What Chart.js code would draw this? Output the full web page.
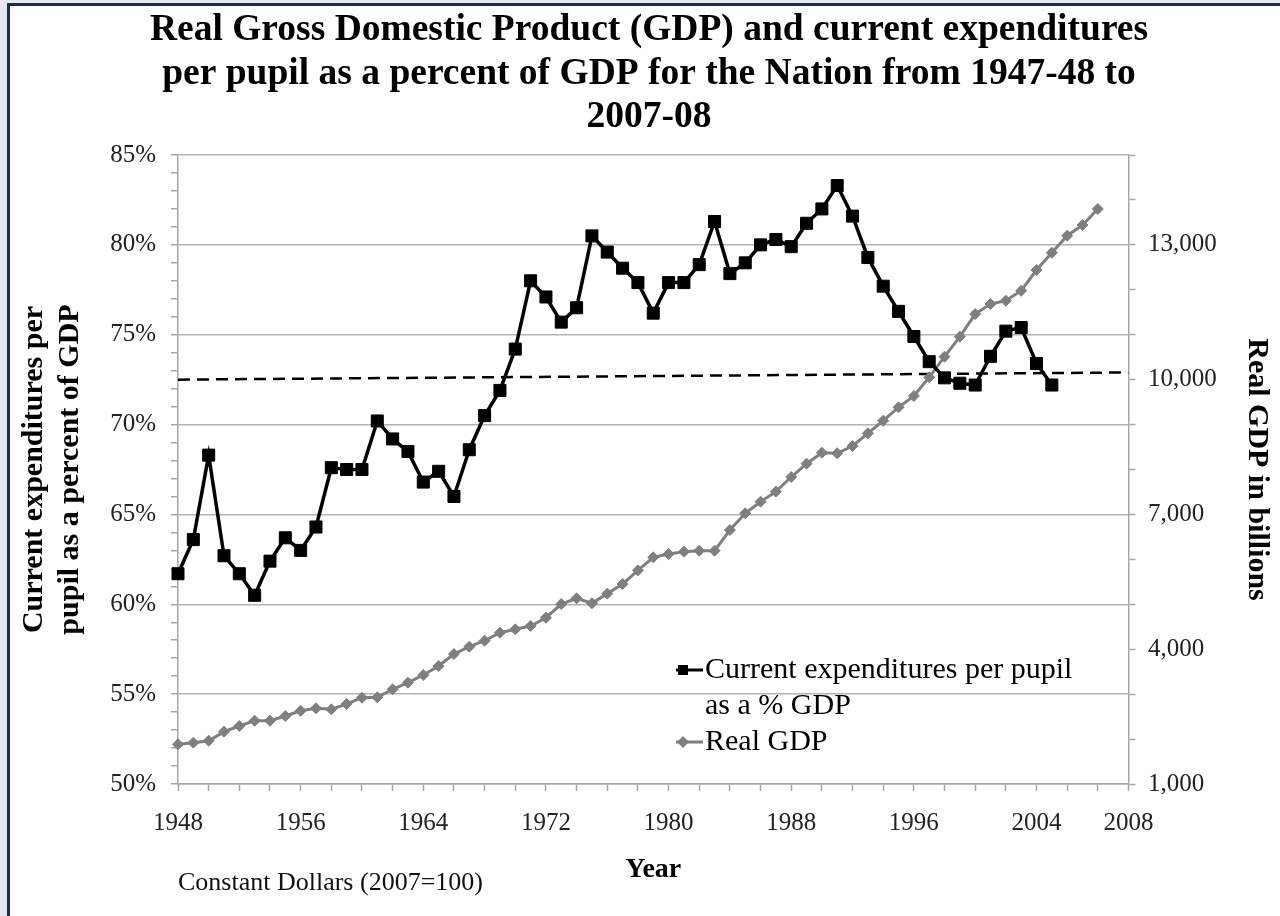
<!DOCTYPE html>
<html>
<head>
<meta charset="utf-8">
<title>Real GDP and current expenditures per pupil as a percent of GDP</title>
<script src="https://cdn.jsdelivr.net/npm/chart.js"></script>
<style>
  html, body { margin: 0; padding: 0; }
  body { width: 1280px; height: 916px; overflow: hidden; background: #e4e9ef; position: relative; }
  #frame { position: absolute; left: 7px; top: 3px; width: 1300px; height: 940px; border: 3px solid #1d2c44; background: #fff; }
  #wrap { position: absolute; left: 0; top: 0; width: 1280px; height: 916px; }
</style>
</head>
<body>
<div id="frame"></div>
<div id="wrap"><canvas id="graph0"></canvas></div>
<script>
// DATA

// school years, labelled by the year they end (1947-48 -> 1948)
const years = [1948, 1949, 1950, 1951, 1952, 1953, 1954, 1955, 1956, 1957,
    1958, 1959, 1960, 1961, 1962, 1963, 1964, 1965, 1966, 1967,
    1968, 1969, 1970, 1971, 1972, 1973, 1974, 1975, 1976, 1977,
    1978, 1979, 1980, 1981, 1982, 1983, 1984, 1985, 1986, 1987,
    1988, 1989, 1990, 1991, 1992, 1993, 1994, 1995, 1996, 1997,
    1998, 1999, 2000, 2001, 2002, 2003, 2004, 2005, 2006, 2007,
    2008]

// current expenditures per pupil as a % of GDP (left axis)
const expenditurePct = [61.7, 63.6, 68.3, 62.7, 61.7, 60.5, 62.4, 63.7, 63.0, 64.3,
    67.6, 67.5, 67.5, 70.2, 69.2, 68.5, 66.8, 67.4, 66.0, 68.6,
    70.5, 71.9, 74.2, 78.0, 77.1, 75.7, 76.5, 80.5, 79.6, 78.7,
    77.9, 76.2, 77.9, 77.9, 78.9, 81.3, 78.4, 79.0, 80.0, 80.3,
    79.9, 81.2, 82.0, 83.3, 81.6, 79.3, 77.7, 76.3, 74.9, 73.5,
    72.6, 72.3, 72.2, 73.8, 75.2, 75.4, 73.4, 72.2]

// real GDP in billions (right axis)
const realGdp = [1884, 1920, 1964, 2164, 2291, 2409, 2409, 2513, 2631, 2685,
    2662, 2781, 2921, 2930, 3108, 3255, 3426, 3626, 3893, 4056,
    4189, 4367, 4443, 4517, 4701, 5006, 5133, 5022, 5237, 5451,
    5755, 6045, 6119, 6170, 6193, 6193, 6653, 7025, 7283, 7506,
    7833, 8130, 8374, 8360, 8523, 8805, 9086, 9384, 9636, 10052,
    10511, 10956, 11460, 11683, 11757, 11979, 12440, 12825, 13204, 13442,
    13798]

// dashed reference line (start and end)
const avgLineYears = [1948, 2010]
const avgLinePct = [72.5, 72.9]

// tick labels
const xTickYears = [1948, 1956, 1964, 1972, 1980, 1988, 1996, 2004, 2010]
const xTickLabels = ['1948', '1956', '1964', '1972', '1980', '1988', '1996', '2004', '2008']
const leftTickLabels = [50, 55, 60, 65, 70, 75, 80, 85]
const rightTickLabels = [1000, 4000, 7000, 10000, 13000]

const legendText = [['Current expenditures per pupil', 'as a % GDP'], 'Real GDP']

// CHART

const serif = "'Liberation Serif', 'Times New Roman', serif"
Chart.defaults.font.family = serif
Chart.defaults.color = '#222'

// small line-with-marker icon for the legend
function legendIcon(color, shape) {
    const c = document.createElement('canvas')
    c.width = 40
    c.height = 14
    const g = c.getContext('2d')
    g.strokeStyle = color
    g.fillStyle = color
    g.lineWidth = 3
    g.beginPath()
    g.moveTo(0, 7)
    g.lineTo(40, 7)
    g.stroke()
    g.beginPath()
    if (shape === 'rect') {
        g.rect(15, 2, 10, 10)
    } else {
        g.moveTo(20, 1); g.lineTo(26, 7); g.lineTo(20, 13); g.lineTo(14, 7); g.closePath()
    }
    g.fill()
    return c
}

// move the legend inside the plot, lower right
const legendPlacer = {
    id: 'legendPlacer',
    afterLayout(chart) {
        const lg = chart.legend
        if (!lg) return
        lg.left = 676
        lg.top = 655
        lg.width = 440
        lg.height = 120
        lg.right = lg.left + lg.width
        lg.bottom = lg.top + lg.height
    }
}

const ctx = document.getElementById('graph0').getContext('2d')

const graph0 = new Chart(ctx, {
    type: 'line',
    data: {
        datasets: [
            {
                label: 'Current expenditures per pupil as a % GDP',
                data: expenditurePct.map((v, i) => ({ x: years[i], y: v })),
                yAxisID: 'y',
                borderColor: '#000',
                borderWidth: 3.5,
                pointStyle: 'rect',
                pointRadius: 8.5,
                pointBackgroundColor: '#000',
                pointBorderColor: '#000',
                pointBorderWidth: 1,
                tension: 0,
                clip: false
            },
            {
                label: 'Real GDP',
                data: realGdp.map((v, i) => ({ x: years[i], y: v })),
                yAxisID: 'y2',
                borderColor: '#7f7f7f',
                borderWidth: 3,
                pointStyle: 'rectRot',
                pointRadius: 5.5,
                pointBackgroundColor: '#7f7f7f',
                pointBorderColor: '#7f7f7f',
                pointBorderWidth: 1,
                tension: 0,
                clip: false
            },
            {
                label: 'reference',
                data: avgLinePct.map((v, i) => ({ x: avgLineYears[i], y: v })),
                yAxisID: 'y',
                borderColor: '#000',
                borderWidth: 2.5,
                borderDash: [12, 7],
                pointRadius: 0,
                tension: 0
            }
        ]
    },
    options: {
        responsive: true,
        maintainAspectRatio: false,
        animation: false,
        events: [],
        layout: { padding: { left: 18, right: 0, top: 0, bottom: 0 } },
        plugins: {
            tooltip: { enabled: false },
            title: {
                display: true,
                text: ['Real Gross Domestic Product (GDP) and current expenditures',
                    'per pupil as a percent of GDP for the Nation from 1947-48 to',
                    '2007-08'],
                color: '#000',
                font: { size: 37.5, weight: 'bold', lineHeight: '43.5px' },
                padding: { top: 9, bottom: 15.5 }
            },
            subtitle: {
                display: true,
                position: 'bottom',
                fullSize: false,
                align: 'start',
                text: 'Constant Dollars (2007=100)',
                color: '#111',
                font: { size: 26, weight: 'normal', lineHeight: '30px' },
                padding: { top: -18, bottom: 18 }
            },
            legend: {
                position: 'chartArea',
                align: 'start',
                labels: {
                    usePointStyle: true,
                    pointStyleWidth: 14,
                    padding: 0,
                    color: '#000',
                    font: { size: 30, lineHeight: '36px' },
                    generateLabels(chart) {
                        const items = Chart.defaults.plugins.legend.labels.generateLabels(chart)
                            .filter(it => it.datasetIndex < 2)
                        items[0].text = legendText[0]
                        items[0].pointStyle = legendIcon('#000', 'rect')
                        items[1].text = legendText[1]
                        items[1].pointStyle = legendIcon('#7f7f7f', 'diamond')
                        return items
                    }
                }
            }
        },
        scales: {
            x: {
                type: 'linear',
                min: 1948,
                max: 2010,
                ticks: {
                    stepSize: 2,
                    autoSkip: false,
                    maxRotation: 0,
                    padding: 17,
                    font: { size: 25 },
                    callback: (v) => {
                        const k = xTickYears.indexOf(v)
                        return k >= 0 ? xTickLabels[k] : ''
                    }
                },
                grid: { drawOnChartArea: false, tickLength: 7, color: '#a6a6a6', tickWidth: 1.5 },
                border: { display: true, color: '#a6a6a6', width: 1.5 },
                title: {
                    display: true,
                    text: 'Year',
                    color: '#000',
                    font: { size: 28, weight: 'bold', lineHeight: '32px' },
                    padding: 0
                },
                afterFit(scale) { scale.height = 102 }
            },
            y: {
                position: 'left',
                min: 50,
                max: 85,
                ticks: {
                    stepSize: 1,
                    autoSkip: false,
                    padding: 15,
                    font: { size: 25 },
                    callback: (v) => leftTickLabels.includes(v) ? v + '%' : ''
                },
                grid: {
                    color: (c) => c.tick && leftTickLabels.includes(c.tick.value) ? '#b3b3b3' : 'rgba(0,0,0,0)',
                    lineWidth: 1.5,
                    tickColor: '#a6a6a6',
                    tickLength: 7,
                    tickWidth: 1.5
                },
                border: { display: true, color: '#a6a6a6', width: 1.5 },
                title: {
                    display: true,
                    text: ['Current expenditures per', 'pupil as a percent of GDP'],
                    color: '#000',
                    font: { size: 30, weight: 'bold', lineHeight: '36px' },
                    padding: { top: -2, bottom: 0 }
                },
                afterFit(scale) { scale.width = 160 }
            },
            y2: {
                position: 'right',
                min: 1000,
                max: 15000,
                ticks: {
                    stepSize: 1000,
                    autoSkip: false,
                    padding: 12.5,
                    font: { size: 25 },
                    callback: (v) => rightTickLabels.includes(v) ? v.toLocaleString('en-US') : ''
                },
                grid: { drawOnChartArea: false, tickLength: 7, color: '#a6a6a6', tickWidth: 1.5 },
                border: { display: true, color: '#a6a6a6', width: 1.5 },
                title: {
                    display: true,
                    text: 'Real GDP in billions',
                    color: '#000',
                    font: { size: 30, weight: 'bold', lineHeight: '36px' },
                    padding: { top: 5, bottom: 0 }
                },
                afterFit(scale) { scale.width = 151.5 }
            }
        }
    },
    plugins: [legendPlacer]
})
</script>
</body>
</html>
